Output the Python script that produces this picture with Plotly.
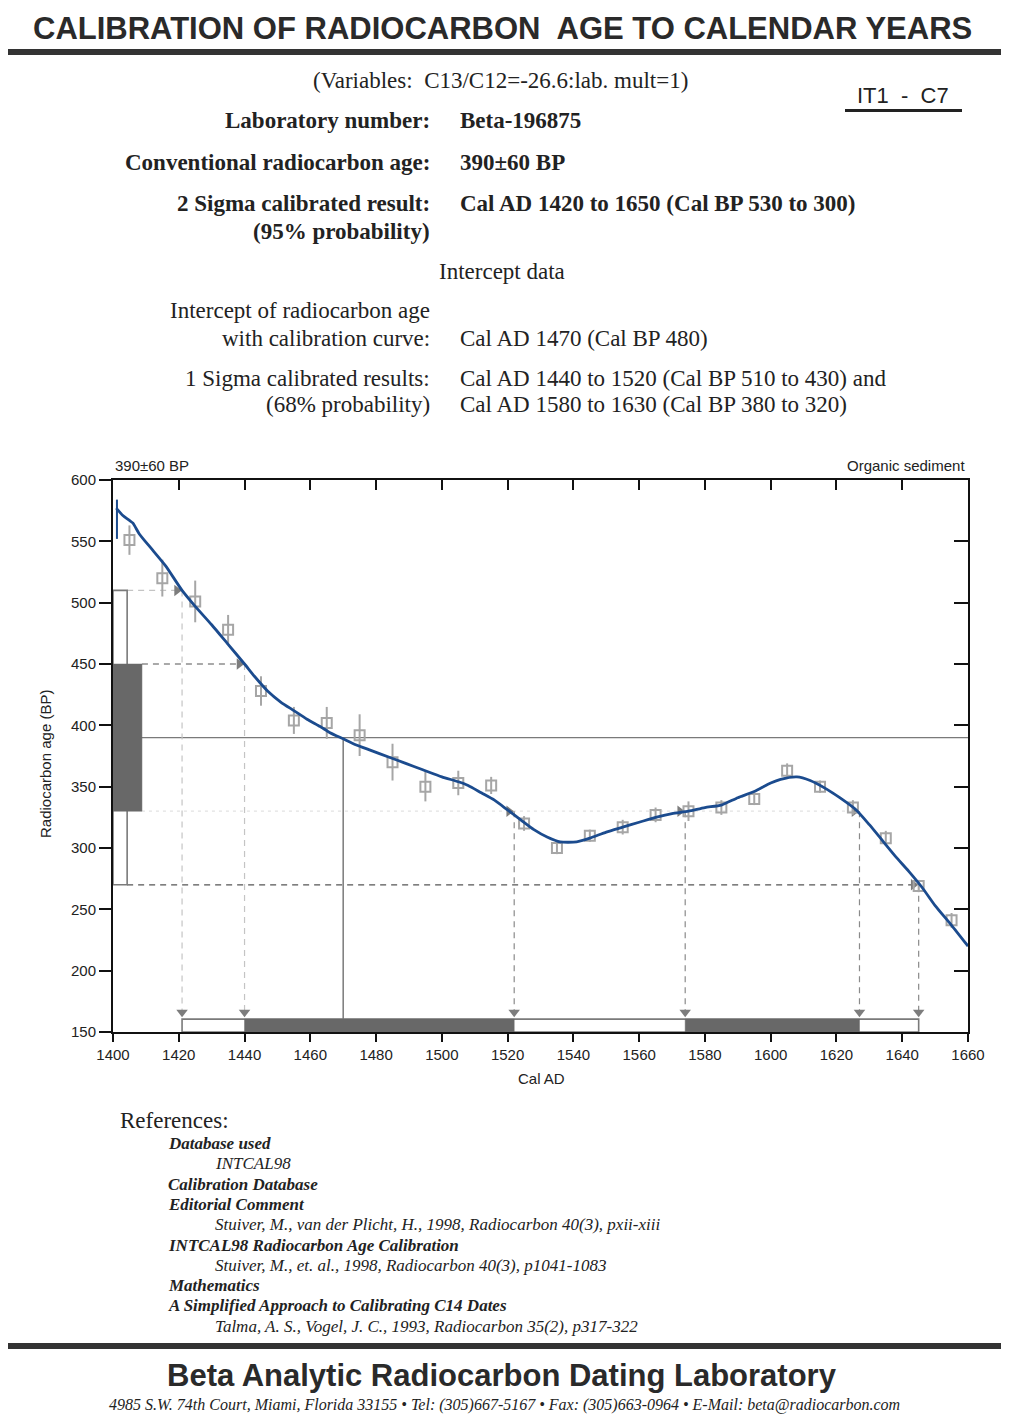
import plotly.graph_objects as go

# ---------------- data ----------------
curve_years = [1401, 1403, 1406, 1408, 1412, 1416, 1421, 1425, 1430, 1435, 1440, 1443, 1447,
               1451, 1455, 1459, 1463, 1466, 1470, 1474, 1478, 1484, 1489, 1494, 1500, 1505,
               1508, 1512, 1516, 1520, 1524, 1528, 1532, 1536, 1541, 1545, 1550, 1555, 1560,
               1565, 1570, 1575, 1580, 1585, 1590, 1595, 1600, 1603, 1608, 1612, 1617, 1621,
               1626, 1630, 1634, 1638, 1642, 1646, 1650, 1655, 1660]
curve_ages = [577, 571, 565, 556, 543, 530, 510, 497, 482, 466, 450, 440, 428,
              419, 412, 405, 399, 394, 389, 384, 380, 374, 369, 364, 358, 354,
              351, 345, 339, 331, 323, 315, 309, 305, 305, 308, 313, 317, 321,
              325, 328, 330, 333, 335, 341, 346, 353, 356, 358, 355, 348, 341,
              331, 319, 306, 293, 281, 268, 253, 237, 220]
curve_start_year = 1401.2
curve_start_band = [552, 584]

data_years = [1405, 1415, 1425, 1435, 1445, 1455, 1465, 1475, 1485, 1495, 1505, 1515, 1525,
              1535, 1545, 1555, 1565, 1575, 1585, 1595, 1605, 1615, 1625, 1635, 1645, 1655]
data_ages = [551, 520, 501, 478, 428, 404, 402, 392, 370, 350, 353, 351, 320,
             300, 310, 317, 327, 330, 333, 340, 363, 350, 333, 308, 269, 241]
data_errs = [12, 15, 17, 12, 12, 11, 13, 17, 15, 12, 10, 7, 6,
             5, 5, 6, 6, 8, 6, 5, 6, 5, 6, 6, 5, 6]

sample_age = 390
sample_sigma = 60
intercept_year = 1470
two_sigma_range = [1421, 1645]
one_sigma_ranges = [[1440, 1522], [1574, 1627]]

x_ticks = list(range(1400, 1661, 20))
y_ticks = list(range(150, 601, 50))

# ---------------- page geometry helpers ----------------
W, H = 1010, 1422
OFF = 8  # page body margin of the html page
def px(x):
    return (x - OFF) / W
def py(y):
    return 1 - (y - OFF) / H

X0, X1 = 1400, 1660
Y0, Y1 = 150, 600
serif = "Liberation Serif, Times New Roman, serif"
sans = "Liberation Sans, Arial, sans-serif"
ink = "#222222"
dark_fill = "#686868"
mid_gray = "#7a7a7a"
curve_color = "#1b4b8e"

fig = go.Figure()

up2 = sample_age + 2 * sample_sigma
lo2 = sample_age - 2 * sample_sigma
up1 = sample_age + sample_sigma
lo1 = sample_age - sample_sigma
box2_right = 1404.3
box1_right = 1408.8
bar_bottom, bar_top = 150, 160.5
arrow_level = 166

# sample age line and intercept line
fig.add_trace(go.Scatter(x=[X0, X1], y=[sample_age, sample_age], mode="lines",
                         line=dict(color=mid_gray, width=1.2), hoverinfo="skip"))
fig.add_trace(go.Scatter(x=[intercept_year, intercept_year], y=[sample_age, bar_top],
                         mode="lines", line=dict(color=mid_gray, width=1.5), hoverinfo="skip"))

# horizontal dashed guide lines
fig.add_trace(go.Scatter(x=[box2_right, two_sigma_range[0] - 1.5], y=[up2, up2], mode="lines",
                         line=dict(color="#c4c4c4", width=1.2, dash="6px,5px"), hoverinfo="skip"))
fig.add_trace(go.Scatter(x=[box1_right, one_sigma_ranges[0][0] - 1.5], y=[up1, up1], mode="lines",
                         line=dict(color="#555555", width=1.2, dash="6px,5px"), hoverinfo="skip"))
fig.add_trace(go.Scatter(x=[box1_right, one_sigma_ranges[1][1]], y=[lo1, lo1], mode="lines",
                         line=dict(color="#e2e2e2", width=1.2, dash="3px,4px"), hoverinfo="skip"))
fig.add_trace(go.Scatter(x=[box2_right, two_sigma_range[1] - 1.5], y=[lo2, lo2], mode="lines",
                         line=dict(color="#555555", width=1.2, dash="6px,5px"), hoverinfo="skip"))

# vertical dashed lines from intercepts
v_pts = [(two_sigma_range[0], up2, "#c4c4c4"), (one_sigma_ranges[0][0], up1, "#c4c4c4"),
         (one_sigma_ranges[0][1], lo1, "#8a8a8a"), (one_sigma_ranges[1][0], lo1, "#8a8a8a"),
         (one_sigma_ranges[1][1], lo1, "#8a8a8a"), (two_sigma_range[1], lo2, "#8a8a8a")]
for xv, yv, c in v_pts:
    fig.add_trace(go.Scatter(x=[xv, xv], y=[yv, arrow_level], mode="lines",
                             line=dict(color=c, width=1.2, dash="6px,5px"), hoverinfo="skip"))

# arrowheads
fig.add_trace(go.Scatter(x=[p[0] - 1.6 for p in v_pts], y=[p[1] for p in v_pts], mode="markers",
                         marker=dict(symbol="triangle-right", size=10, color="#7d7d7d"),
                         hoverinfo="skip"))
fig.add_trace(go.Scatter(x=[p[0] for p in v_pts], y=[arrow_level] * len(v_pts), mode="markers",
                         marker=dict(symbol="triangle-down", size=10, color="#7d7d7d"),
                         hoverinfo="skip"))

# probability bars (left)
fig.add_shape(type="rect", xref="x", yref="y", x0=X0, x1=box2_right, y0=lo2, y1=up2,
              line=dict(color=mid_gray, width=1.6), fillcolor="rgba(0,0,0,0)")
fig.add_shape(type="rect", xref="x", yref="y", x0=X0, x1=box1_right, y0=lo1, y1=up1,
              line=dict(color=dark_fill, width=0.5), fillcolor=dark_fill)

# probability bars (bottom)
fig.add_shape(type="rect", xref="x", yref="y", x0=two_sigma_range[0], x1=two_sigma_range[1],
              y0=bar_bottom, y1=bar_top, line=dict(color=mid_gray, width=1.6),
              fillcolor="rgba(0,0,0,0)")
for a, b in one_sigma_ranges:
    fig.add_shape(type="rect", xref="x", yref="y", x0=a, x1=b, y0=bar_bottom, y1=bar_top,
                  line=dict(color=dark_fill, width=0.5), fillcolor=dark_fill)

# calibration data points
fig.add_trace(go.Scatter(x=data_years, y=data_ages, mode="markers",
                         marker=dict(symbol="square-open", size=10, color="#a6a6a6",
                                     line=dict(width=2, color="#a6a6a6")),
                         error_y=dict(type="data", array=data_errs, color="#a6a6a6",
                                      thickness=2, width=0),
                         hoverinfo="skip"))

# calibration curve
fig.add_trace(go.Scatter(x=[curve_start_year, curve_start_year], y=curve_start_band, mode="lines",
                         line=dict(color=curve_color, width=2), hoverinfo="skip"))
fig.add_trace(go.Scatter(x=curve_years, y=curve_ages, mode="lines",
                         line=dict(color=curve_color, width=2.8, shape="spline", smoothing=0.6),
                         hoverinfo="skip"))

# invisible trace for mirrored axes
fig.add_trace(go.Scatter(x=[X0], y=[Y0], xaxis="x2", yaxis="y2", mode="markers",
                         marker=dict(opacity=0), hoverinfo="skip"))

dom_x = [px(113), px(968)]
dom_y = [py(1032), py(480)]
axis_common = dict(showgrid=False, zeroline=False, showline=True, linecolor="#111",
                   linewidth=2, tickcolor="#111", tickwidth=2, automargin=False,
                   tickfont=dict(family=sans, size=15, color=ink))
fig.update_layout(
    width=W, height=H, margin=dict(l=0, r=0, t=0, b=0, pad=0, autoexpand=False),
    paper_bgcolor="white", plot_bgcolor="white", showlegend=False,
    xaxis=dict(domain=dom_x, range=[X0, X1], tickvals=x_ticks, ticks="outside", ticklen=8,
               anchor="y", **axis_common),
    yaxis=dict(domain=dom_y, range=[Y0, Y1], tickvals=y_ticks, ticks="outside", ticklen=12,
               anchor="x", **axis_common),
    xaxis2=dict(domain=dom_x, range=[X0, X1], tickvals=x_ticks[1:-1], ticks="inside",
                ticklen=10, overlaying="x", side="top", anchor="y", showticklabels=False,
                **axis_common),
    yaxis2=dict(domain=dom_y, range=[Y0, Y1], tickvals=y_ticks[1:-1], ticks="inside",
                ticklen=14, overlaying="y", side="right", anchor="x", showticklabels=False,
                **axis_common),
)

# ---------------- page text ----------------
def txt(x, y, s, size, family=serif, anchor="left", color=ink, angle=0):
    fig.add_annotation(x=px(x), y=py(y), xref="paper", yref="paper", text=s, showarrow=False,
                       xanchor=anchor, yanchor="middle", textangle=angle,
                       font=dict(family=family, size=size, color=color))

def rule(x0, x1, y0, y1, color="#333333"):
    fig.add_shape(type="rect", xref="paper", yref="paper", x0=px(x0), x1=px(x1),
                  y0=py(y1), y1=py(y0), fillcolor=color, line=dict(width=0))

txt(502, 28, "<b>CALIBRATION OF RADIOCARBON  AGE TO CALENDAR YEARS</b>", 31, sans, "center", "#2a2a2a")
rule(8, 1001, 49, 55)
txt(500, 80, "(Variables:  C13/C12=-26.6:lab. mult=1)", 23, serif, "center")
txt(903, 95, "IT1  -  C7", 22, sans, "center")
rule(845, 962, 109, 112, "#222")

lab_r, val_l = 432, 458
txt(lab_r, 121, "<b>Laboratory number:</b>", 23, serif, "right")
txt(val_l, 121, "<b>Beta-196875</b>", 23, serif)
txt(lab_r, 162, "<b>Conventional radiocarbon age:</b>", 23, serif, "right")
txt(val_l, 162, "<b>390±60 BP</b>", 23, serif)
txt(lab_r, 203, "<b>2 Sigma calibrated result:</b>", 23, serif, "right")
txt(lab_r, 231, "<b>(95% probability)</b>", 23, serif, "right")
txt(val_l, 203, "<b>Cal AD 1420 to 1650 (Cal BP 530 to 300)</b>", 23, serif)
txt(502, 271, "Intercept data", 23, serif, "center")
txt(lab_r, 311, "Intercept of radiocarbon age", 23, serif, "right")
txt(lab_r, 338, "with calibration curve:", 23, serif, "right")
txt(val_l, 338, "Cal AD 1470 (Cal BP 480)", 23, serif)
txt(lab_r, 378, "1 Sigma calibrated results:", 23, serif, "right")
txt(lab_r, 405, "(68% probability)", 23, serif, "right")
txt(val_l, 378, "Cal AD 1440 to 1520 (Cal BP 510 to 430) and", 23, serif)
txt(val_l, 405, "Cal AD 1580 to 1630 (Cal BP 380 to 320)", 23, serif)

txt(113, 465, "390±60 BP", 15, sans)
txt(967, 465, "Organic sediment", 15, sans, "right")
txt(46, 764, "Radiocarbon age (BP)", 15, sans, "center", angle=-90)
txt(541, 1078, "Cal AD", 15, sans, "center")

txt(118, 1120, "References:", 23, serif)
ref_lines = [
    (166, 1143, "<b><i>Database used</i></b>"),
    (213, 1163, "<i>INTCAL98</i>"),
    (166, 1184, "<b><i>Calibration Database</i></b>"),
    (166, 1204, "<b><i>Editorial Comment</i></b>"),
    (213, 1224, "<i>Stuiver, M., van der Plicht, H., 1998, Radiocarbon 40(3), pxii-xiii</i>"),
    (166, 1245, "<b><i>INTCAL98 Radiocarbon Age Calibration</i></b>"),
    (213, 1265, "<i>Stuiver, M., et. al., 1998, Radiocarbon 40(3), p1041-1083</i>"),
    (166, 1285, "<b><i>Mathematics</i></b>"),
    (166, 1305, "<b><i>A Simplified Approach to Calibrating C14 Dates</i></b>"),
    (213, 1326, "<i>Talma, A. S., Vogel, J. C., 1993, Radiocarbon 35(2), p317-322</i>"),
]
for x, y, s in ref_lines:
    txt(x, y, s, 17, serif)

rule(8, 1001, 1343, 1349)
txt(502, 1375, "<b>Beta Analytic Radiocarbon Dating Laboratory</b>", 31, sans, "center", "#2a2a2a")
txt(504, 1405, "<i>4985 S.W. 74th Court, Miami, Florida 33155 • Tel: (305)667-5167 • Fax: (305)663-0964 • E-Mail: beta@radiocarbon.com</i>",
    16, serif, "center")

fig.write_html("out.html")
